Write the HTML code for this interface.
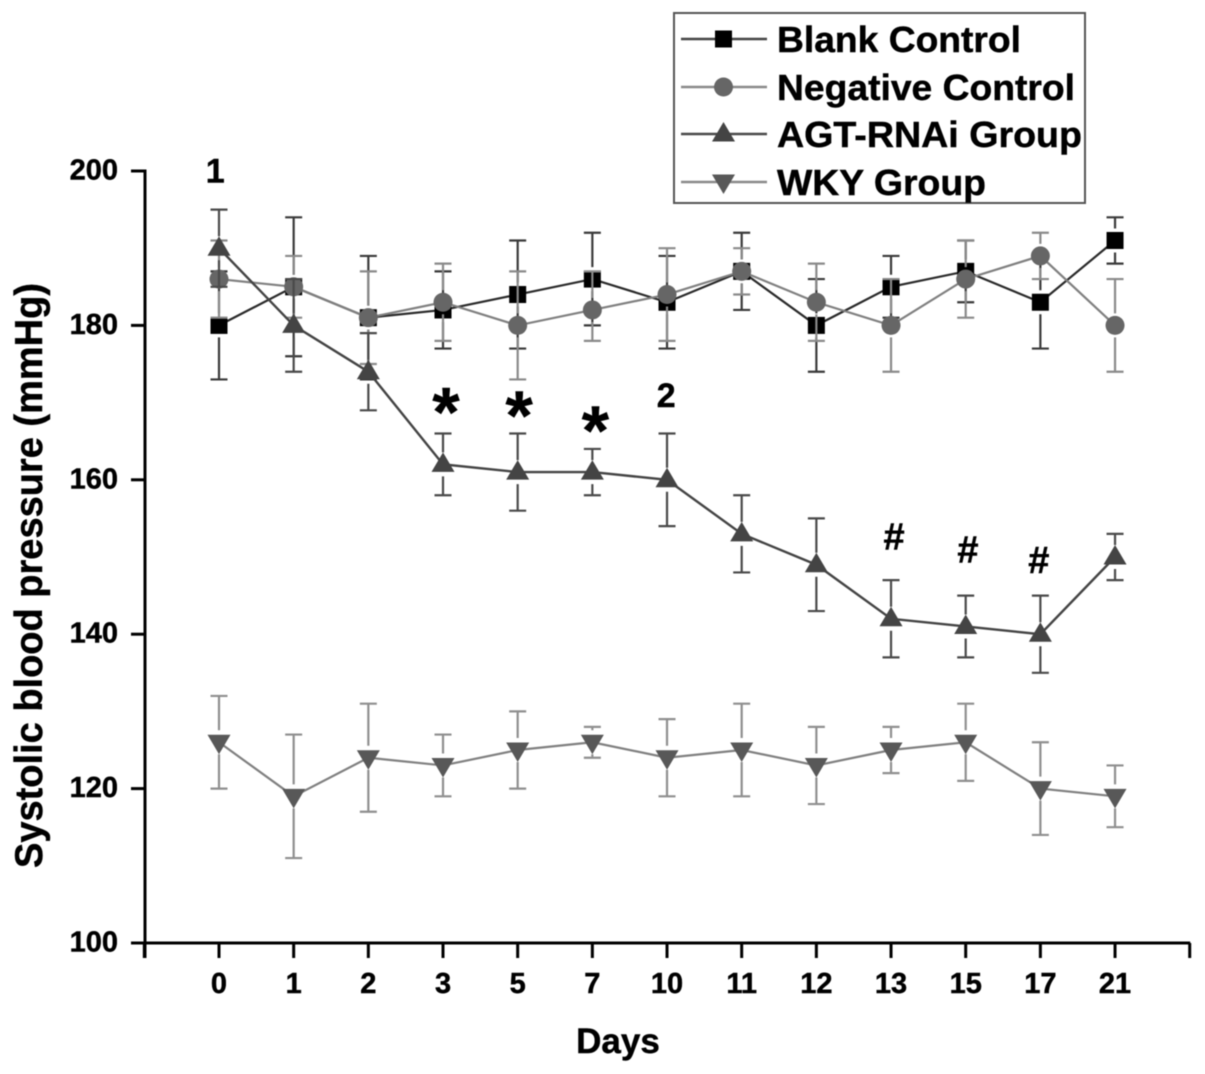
<!DOCTYPE html>
<html lang="en">
<head>
<meta charset="utf-8">
<title>Systolic blood pressure over days</title>
<style>
html,body{margin:0;padding:0;background:#fff;width:1205px;height:1074px;overflow:hidden}
svg{display:block;filter:blur(0.5px)}
text{font-family:"Liberation Sans",Arial,sans-serif;font-weight:bold;fill:#000;stroke:#000;stroke-width:0.45px}
</style>
</head>
<body>
<svg id="chart" xmlns="http://www.w3.org/2000/svg" width="1205" height="1074" viewBox="0 0 1205 1074">
  <rect x="0" y="0" width="1205" height="1074" fill="#fff"/>
  <g id="axes"></g>
  <g id="series"></g>
  <text transform="translate(42,868) rotate(-90)" font-size="39" textLength="585" lengthAdjust="spacingAndGlyphs">Systolic blood pressure (mmHg)</text>
  <text x="618" y="1053" font-size="35" text-anchor="middle">Days</text>
  <g id="annotations"></g>
  <g id="legend">
    <rect x="674" y="13" width="411" height="190" fill="#fff" stroke="#555" stroke-width="2"/>
    <text x="777" y="52" font-size="36" textLength="244" lengthAdjust="spacingAndGlyphs">Blank Control</text>
    <text x="777" y="100" font-size="36" textLength="298" lengthAdjust="spacingAndGlyphs">Negative Control</text>
    <text x="777" y="147" font-size="36" textLength="305" lengthAdjust="spacingAndGlyphs">AGT-RNAi Group</text>
    <text x="777" y="195" font-size="36" textLength="209" lengthAdjust="spacingAndGlyphs">WKY Group</text>
  </g>
</svg>
<script>
const days = ['0','1','2','3','5','7','10','11','12','13','15','17','21'];
const yTicks = [100,120,140,160,180,200];

const blankValues = [180,185,181,182,184,186,183,187,180,185,187,183,191];
const blankUpper  = [187,194,189,187,191,192,189,192,186,189,191,189,194];
const blankLower  = [173,176,173,177,177,180,177,182,174,181,183,177,188];

const negativeValues = [186,185,181,183,180,182,184,187,183,180,186,189,180];
const negativeUpper  = [191,189,187,188,187,187,190,190,188,186,191,192,186];
const negativeLower  = [181,181,175,178,173,178,178,184,178,174,181,186,174];

const agtValues = [190,180,174,162,161,161,160,153,149,142,141,140,150];
const agtUpper  = [195,186,179,166,166,164,166,158,155,147,145,145,153];
const agtLower  = [185,174,169,158,156,158,154,148,143,137,137,135,147];

const wkyValues = [126,119,124,123,125,126,124,125,123,125,126,120,119];
const wkyUpper  = [132,127,131,127,130,128,129,131,128,128,131,126,123];
const wkyLower  = [120,111,117,119,120,124,119,119,118,122,121,114,115];

/* annotation glyphs, placed in data coordinates: category index and pressure value at the text baseline */
const annLabels = ['1','*','*','*','2','#','#','#'];
const annIndex  = [-0.05,3.04,4.02,5.04,5.99,9.04,10.03,10.98];
const annValues = [198.5,165.7,165.2,163.3,169.4,151.0,149.3,147.9];

const NS = 'http://www.w3.org/2000/svg';
function xPos(i){ return 219 + i * 74.67; }
function yPos(v){ return 943 - (v - 100) * 7.72; }
function make(parent, tag, attrs){
  const el = document.createElementNS(NS, tag);
  for (const k in attrs) el.setAttribute(k, attrs[k]);
  parent.appendChild(el);
  return el;
}
function drawMarker(parent, shape, cx, cy, fill){
  let el;
  if (shape === 'square') {
    el = make(parent, 'rect', {x: cx - 8.5, y: cy - 8.5, width: 17, height: 17, fill: fill});
  } else if (shape === 'circle') {
    el = make(parent, 'circle', {cx: cx, cy: cy, r: 9.5, fill: fill});
  } else if (shape === 'up') {
    el = make(parent, 'polygon', {points: (cx-11.5)+','+(cy+7.5)+' '+(cx+11.5)+','+(cy+7.5)+' '+cx+','+(cy-12), fill: fill});
  } else {
    el = make(parent, 'polygon', {points: (cx-11.5)+','+(cy-7.5)+' '+(cx+11.5)+','+(cy-7.5)+' '+cx+','+(cy+12), fill: fill});
  }
  return el;
}

/* axes */
const axes = document.getElementById('axes');
const yAxisLine = make(axes, 'line', {x1:145, y1:yPos(200)-1.5, x2:145, y2:958, stroke:'#000', 'stroke-width':3});


const xAxisLine = make(axes, 'line', {x1:131, y1:yPos(100), x2:xPos(13)+0.5, y2:yPos(100), stroke:'#000', 'stroke-width':3});



yTicks.forEach(function(t){
  const tick = make(axes, 'line', {x1:131, y1:yPos(t), x2:145, y2:yPos(t), stroke:'#000', 'stroke-width':3});
  
  
  const label = make(axes, 'text', {x:118, y:yPos(t)+8.5, 'font-size':29, 'text-anchor':'end'});
  label.textContent = t;
  
  
});

for (let i = -1; i <= 13; i++) {
  const tick = make(axes, 'line', {x1:xPos(i), y1:yPos(100), x2:xPos(i), y2:958, stroke:'#000', 'stroke-width':3});
  
  
}
days.forEach(function(d, i){
  const label = make(axes, 'text', {x:xPos(i), y:993, 'font-size':29, 'text-anchor':'middle'});
  label.textContent = d;
  
  
});

/* series */
const seriesLayer = document.getElementById('series');
function drawSeries(key, values, upper, lower, shape, lineColor, errColor, markerColor, lineWidth){
  const group = make(seriesLayer, 'g', {});
  
  
  const GAP = 12;
  values.forEach(function(v, i){
    const x = xPos(i), cy = yPos(v), yu = yPos(upper[i]), yl = yPos(lower[i]);
    const err = make(group, 'path', {
      d: 'M'+x+' '+(cy-GAP)+'V'+yu+'M'+(x-8.5)+' '+yu+'H'+(x+8.5)+
         'M'+x+' '+(cy+GAP)+'V'+yl+'M'+(x-8.5)+' '+yl+'H'+(x+8.5),
      fill:'none', stroke:errColor, 'stroke-width':2.2
    });
    
    
  });
  const pts = values.map(function(v, i){ return xPos(i) + ',' + yPos(v); }).join(' ');
  const line = make(group, 'polyline', {points:pts, fill:'none', stroke:lineColor, 'stroke-width':lineWidth});
  
  
  values.forEach(function(v, i){
    const m = drawMarker(group, shape, xPos(i), yPos(v), markerColor);
    
    
  });
}
drawSeries('blank-control', blankValues, blankUpper, blankLower, 'square', '#2a2a2a', '#3a3a3a', '#000', 2.2);
drawSeries('negative-control', negativeValues, negativeUpper, negativeLower, 'circle', '#808080', '#8a8a8a', '#666', 2.2);
drawSeries('agt-rnai-group', agtValues, agtUpper, agtLower, 'up', '#444', '#4a4a4a', '#444', 2.4);
drawSeries('wky-group', wkyValues, wkyUpper, wkyLower, 'down', '#808080', '#8f8f8f', '#585858', 2.2);

/* annotations */
const annLayer = document.getElementById('annotations');
annLabels.forEach(function(t, i){
  const size = t === '*' ? 70 : (t === '#' ? 38 : 34);
  const el = make(annLayer, 'text', {x:xPos(annIndex[i]), y:yPos(annValues[i]), 'font-size':size, 'text-anchor':'middle'});
  el.textContent = t;
  
  
});

/* legend samples */
const legend = document.getElementById('legend');
const legendRows = [39,87,134,182];
const legendShapes = ['square','circle','up','down'];
const legendLineColors = ['#444','#8a8a8a','#4a4a4a','#8a8a8a'];
const legendMarkerColors = ['#000','#666','#444','#585858'];
legendRows.forEach(function(y, i){
  const l = make(legend, 'line', {x1:681, y1:y, x2:767, y2:y, stroke:legendLineColors[i], 'stroke-width':2.4});
  
  
  const m = drawMarker(legend, legendShapes[i], 723.5, y, legendMarkerColors[i]);
  
  
});
</script>
</body>
</html>
